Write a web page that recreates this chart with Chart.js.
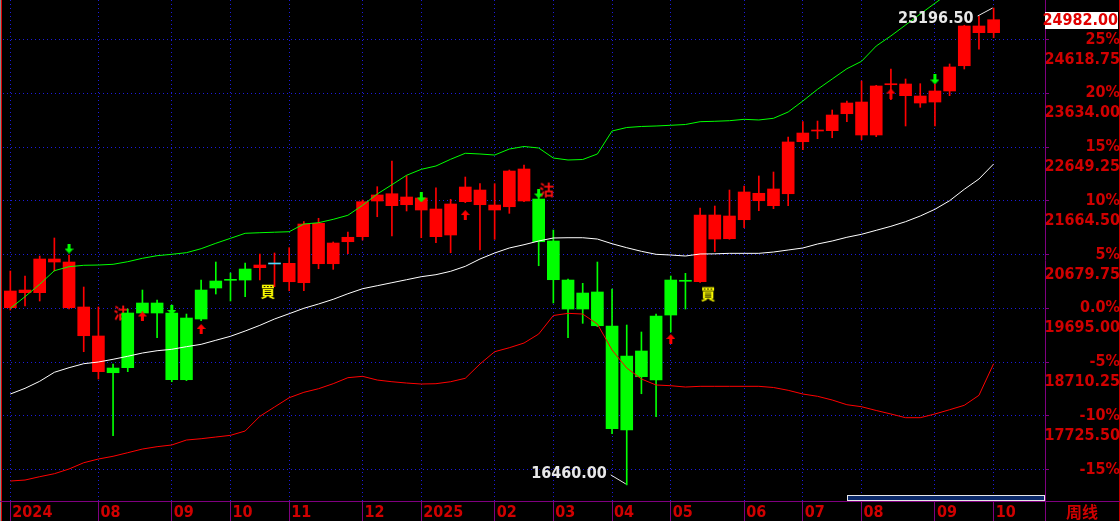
<!DOCTYPE html>
<html>
<head>
<meta charset="utf-8">
<script src="https://cdn.jsdelivr.net/npm/chart.js@4.4.1/dist/chart.umd.min.js"></script>
<style>
html, body { margin: 0; padding: 0; background: #000; overflow: hidden; }
canvas { display: block; }
</style>
</head>
<body>
<canvas id="kChart" width="1120" height="521"></canvas>
<script>
// ---------------- weekly candles ----------------
var openP  = [19706,19981,19981,20543,19706,19193,18534,18601,19609,19792,
              19792,19609,19517,20030,20195,20208,20415,20439,20507,20182,
              20164,20512,20512,20915,21007,21661,21575,21593,21496,21007,
              21038,21648,21593,21496,21556,21661,21697,20928,20213,19975,
              19994,19371,18821,18913,19554,20213,20190,20182,20964,20970,
              21318,21666,21575,21794,22747,22943,22949,23260,22870,22870,
              23791,23590,23456,23474,23676,24139,24744,24744];
var highP  = [20378,20287,20653,20983,20671,20085,19719,18675,19682,20030,
              19847,19755,19590,20213,20543,20342,20525,20690,20708,20805,
              21282,21344,20910,21093,21679,21923,22394,22124,21752,21904,
              21692,22100,21978,21978,22229,22320,21752,21129,20230,20153,
              20543,20048,19389,19261,19590,20287,20336,21532,21569,21862,
              21936,22119,22192,22833,23114,23126,23328,23493,23859,23780,
              24079,23896,23810,23804,24171,24880,25050,25196.5];
var lowP   = [19664,19737,19829,20378,19682,18900,18400,17361,18534,19590,
              19156,18350,18370,19470,19957,19829,19908,20213,20091,20017,
              20017,20420,20409,20695,20946,21373,21020,21478,20988,20897,
              20713,21630,20763,20959,21435,21650,20475,19792,19156,19420,
              19360,17398,16460,18130,17709,19261,19682,20170,20732,20960,
              21172,21483,21520,21575,22601,22802,22820,23114,22784,22839,
              23516,23035,23377,23035,23590,24079,24440,24652];
var closeP = [20012,20030,20598,20598,20543,19719,19188,18515,18607,19609,
              19609,18387,18387,19499,20067,20208,20213,20488,20507,20519,
              21239,21252,20891,20996,21648,21771,21794,21734,21716,21514,
              21606,21917,21862,21587,22210,22247,20915,20219,19682,19682,
              19376,17489,17465,18442,18381,19572,20190,21404,21404,21386,
              21826,21802,21881,22742,22906,22943,23236,23456,23474,23768,
              23791,23804,23584,23676,24116,24867,24867,24982];

// ---------------- band lines ----------------
var bandUp  = [19695,19908,20135,20384,20457,20483,20488,20501,20549,20611,
               20659,20684,20714,20787,20886,20977,21069,21080,21089,21098,
               21239,21263,21325,21399,21582,21789,21959,22132,22241,22302,
               22425,22535,22522,22503,22613,22659,22632,22448,22412,22421,
               22522,22943,23007,23026,23035,23048,23062,23114,23121,23132,
               23157,23145,23176,23291,23493,23707,23896,24084,24220,24500,
               24685,24885,25087,25283,25480,25673,25874,26076];
var bandMid = [18125,18229,18358,18523,18607,18680,18711,18761,18816,18876,
               18918,18944,18992,19035,19109,19182,19279,19383,19499,19596,
               19695,19774,19860,19962,20054,20109,20164,20219,20274,20311,
               20373,20464,20598,20708,20800,20860,20928,20983,20988,20988,
               20964,20878,20805,20739,20684,20671,20653,20690,20693,20702,
               20702,20702,20726,20763,20800,20873,20928,20996,21051,21124,
               21197,21282,21386,21509,21666,21875,22064,22339];
var bandLow = [16531,16549,16610,16665,16751,16866,16934,16984,17050,17117,
               17160,17191,17282,17306,17337,17368,17447,17716,17887,18057,
               18156,18222,18314,18424,18449,18381,18350,18326,18308,18314,
               18350,18413,18675,18900,18973,19059,19224,19563,19603,19590,
               19407,18931,18601,18400,18290,18277,18253,18266,18266,18266,
               18266,18266,18244,18193,18125,18083,18015,17929,17892,17823,
               17759,17691,17691,17759,17837,17918,18101,18680];

// ---------------- signals ----------------
var sellIdx = [7, 36],  sellPrice = [19618, 21871];   // 沽
var buyIdx  = [17, 47], buyPrice  = [20012, 19966];   // 買
var downIdx = [4, 11, 28, 36, 63], downPrice = [20790, 19664, 21725, 21798, 23887];
var upIdx   = [9, 13, 31, 45, 60], upPrice   = [19545, 19316, 21404, 19133, 23630];
var flatIdx = [18];

var lastClose = 24982.00;
var hiIdx = 67, hiPrice = 25196.50;
var loIdx = 42, loPrice = 16460.00;

// ---------------- axes ----------------
var monthTickIdx  = [0, 6, 11, 15, 19, 24, 28, 33, 37, 41, 45, 50, 54, 58, 63, 67];
var monthTickText = ['2024','08','09','10','11','12','2025','02','03','04','05','06','07','08','09','10'];
var basePrice = 19695;
var pctLevels     = [-15, -10, -5, 0, 5, 10, 15, 20, 25];
var pctTickText   = ['-15%','-10%','-5%','0.0%','5%','10%','15%','20%','25%'];
var priceTickText = ['', '17725.50', '18710.25', '19695.00', '20679.75', '21664.50', '22649.25', '23634.00', '24618.75'];
var yMin = 16165, yMax = 25343;
var padWeeks = 3;

var RED = '#ff0000', GREEN = '#00ff00', CYAN = '#4fdcff';
var LABEL_RED = '#d00000', PURPLE = '#800080', DOT_BLUE = '#1c1cdc';
var axisFamily = "'DejaVu Sans Condensed', 'DejaVu Sans', sans-serif";

var weekLabels = [];
for (var w = 0; w < closeP.length + padWeeks; w++) weekLabels.push('w' + w);

// long (red) / short (green) state follows the last 買 / 沽
var longState = closeP.map(function (c, i) {
    var s = Math.max.apply(null, sellIdx.filter(function (k) { return k <= i; }).concat([-1]));
    var b = Math.max.apply(null, buyIdx.filter(function (k) { return k <= i; }).concat([-1]));
    return !(s > b);
});
var bodyColors = closeP.map(function (c, i) {
    if (flatIdx.indexOf(i) >= 0) return CYAN;
    return longState[i] ? RED : GREEN;
});
var wickColors = longState.map(function (l) { return l ? RED : GREEN; });

var bodies = openP.map(function (o, i) { return [o, closeP[i]]; });
var wicks  = lowP.map(function (l, i) { return [l, highP[i]]; });

function sparse(idx, vals) {
    var a = closeP.map(function () { return null; });
    idx.forEach(function (k, j) { a[k] = vals[j]; });
    return a;
}

// little marker images
function makeArrow(color, down) {
    var cv = document.createElement('canvas');
    cv.width = 9; cv.height = 10;
    var g = cv.getContext('2d');
    g.fillStyle = color;
    g.beginPath();
    if (down) {
        g.fillRect(3, 0, 3, 6);
        g.moveTo(0, 5); g.lineTo(9, 5); g.lineTo(4.5, 10);
    } else {
        g.fillRect(3, 4, 3, 6);
        g.moveTo(0, 5); g.lineTo(9, 5); g.lineTo(4.5, 0);
    }
    g.closePath();
    g.fill();
    return cv;
}
function makeChar(ch, color, family) {
    var cv = document.createElement('canvas');
    cv.width = 36; cv.height = 20;
    var g = cv.getContext('2d');
    g.fillStyle = color;
    g.font = 'bold 15px ' + family;
    g.textAlign = 'center';
    g.textBaseline = 'middle';
    g.fillText(ch, 26, 10);
    return cv;
}

var mctx = document.createElement('canvas').getContext('2d');
mctx.font = 'bold 16px ' + axisFamily;
var widest = mctx.measureText('24618.75').width;
var yAxisWidth = 75, yTickLen = 4;
var yPad = 1118 - (1120 - yAxisWidth) - yTickLen - widest;

var chrome = {
    id: 'chrome',
    beforeDraw: function (chart) {
        var c = chart.ctx;
        c.save();
        c.fillStyle = '#000';
        c.fillRect(0, 0, chart.width, chart.height);
        c.restore();
    },
    afterDraw: function (chart) {
        var c = chart.ctx, a = chart.chartArea, xs = chart.scales.x, ys = chart.scales.y;
        var W = chart.width, H = chart.height;
        c.save();
        // frame
        c.fillStyle = '#8a8a8a'; c.fillRect(0, 0, 1, H);
        c.fillStyle = '#e00000'; c.fillRect(1, 0, 1, H);
        c.fillStyle = '#c00000'; c.fillRect(W - 1, 0, 1, H);
        c.strokeStyle = PURPLE; c.lineWidth = 1;
        c.beginPath();
        c.moveTo(0, Math.round(a.bottom) + 0.5); c.lineTo(W, Math.round(a.bottom) + 0.5);
        c.moveTo(Math.round(a.right) + 0.5, 0); c.lineTo(Math.round(a.right) + 0.5, H);
        c.stroke();

        // scroll bar
        c.fillStyle = '#0c2a6a';
        c.fillRect(848, 496, 196, 4);
        c.strokeStyle = '#e8e8e8';
        c.strokeRect(847.5, 495.5, 197, 5);

        // period name
        c.fillStyle = LABEL_RED;
        c.font = 'bold 16px "Noto Sans CJK SC"';
        c.textAlign = 'center'; c.textBaseline = 'middle';
        c.fillText('周线', 1082, 512);

        // last price tag
        var yc = ys.getPixelForValue(lastClose);
        c.fillStyle = '#ffffff';
        c.fillRect(Math.round(a.right), Math.round(yc) - 8, 73, 17);
        c.fillStyle = '#e00000';
        c.font = 'bold 16px ' + axisFamily;
        c.textAlign = 'right';
        c.fillText(lastClose.toFixed(2), 1118, yc + 1);

        // high / low marks
        c.strokeStyle = '#e8e8e8';
        c.fillStyle = '#e8e8e8';
        var hx = xs.getPixelForValue(hiIdx), hy = ys.getPixelForValue(hiPrice);
        var lx = xs.getPixelForValue(loIdx), ly = ys.getPixelForValue(loPrice);
        c.beginPath();
        c.moveTo(hx - 16, hy + 8); c.lineTo(hx - 1, hy);
        c.moveTo(lx - 16, ly - 10); c.lineTo(lx - 1, ly - 1);
        c.stroke();
        c.fillText(hiPrice.toFixed(2), hx - 20, hy + 11);
        c.fillText(loPrice.toFixed(2), lx - 20, ly - 11);
        c.restore();
    }
};

var lineBase = { type: 'line', borderWidth: 1, pointRadius: 0, fill: false, tension: 0, order: 0 };
function lineSet(data, color) {
    return Object.assign({}, lineBase, { data: data, borderColor: color });
}
function markSet(data, img, order) {
    return { type: 'line', data: data, showLine: false, pointStyle: img, pointRadius: 4, order: order };
}

new Chart(document.getElementById('kChart'), {
    type: 'bar',
    data: {
        labels: weekLabels,
        datasets: [
            lineSet(bandUp, GREEN),
            lineSet(bandMid, '#ffffff'),
            lineSet(bandLow, RED),
            markSet(sparse(downIdx, downPrice), makeArrow(GREEN, true), -1),
            markSet(sparse(upIdx, upPrice), makeArrow(RED, false), -1),
            markSet(sparse(sellIdx, sellPrice), makeChar('沽', '#ff1010', '"Noto Sans CJK SC"'), 3),
            markSet(sparse(buyIdx, buyPrice), makeChar('買', '#ffff00', '"Noto Sans CJK TC"'), 3),
            { data: bodies, backgroundColor: bodyColors, barThickness: 12, minBarLength: 1,
              grouped: false, borderWidth: 0, order: 1 },
            { data: wicks, backgroundColor: wickColors, barThickness: 1,
              grouped: false, borderWidth: 0, order: 2 }
        ]
    },
    options: {
        responsive: false,
        animation: false,
        events: [],
        layout: { autoPadding: false, padding: { left: 3, top: 0, right: 0, bottom: 0 } },
        plugins: { legend: { display: false }, tooltip: { enabled: false } },
        scales: {
            x: {
                type: 'category',
                offset: true,
                grid: { offset: false, color: DOT_BLUE, lineWidth: 1, tickLength: 20, tickColor: PURPLE, tickWidth: 1 },
                border: { display: false, dash: [1, 3] },
                ticks: {
                    autoSkip: false, maxRotation: 0, minRotation: 0,
                    align: 'start', labelOffset: 2, padding: -17.5,
                    color: LABEL_RED,
                    font: { family: axisFamily, size: 16, weight: 'bold' },
                    callback: function (value) {
                        var j = monthTickIdx.indexOf(value);
                        return j < 0 ? '' : monthTickText[j];
                    }
                },
                afterBuildTicks: function (s) {
                    s.ticks = monthTickIdx.map(function (v) { return { value: v }; });
                },
                afterFit: function (s) {
                    s.height = 20;
                    s.paddingLeft = 0; s.paddingRight = 0;
                }
            },
            y: {
                type: 'linear',
                position: 'right',
                min: yMin, max: yMax,
                grid: { color: DOT_BLUE, lineWidth: 1, tickLength: yTickLen, tickColor: PURPLE, tickWidth: 1 },
                border: { display: false, dash: [1, 3] },
                ticks: {
                    crossAlign: 'far', padding: yPad, labelOffset: 10,
                    color: LABEL_RED,
                    font: { family: axisFamily, size: 16, weight: 'bold', lineHeight: '20px' },
                    callback: function (value, index) {
                        return [pctTickText[index], priceTickText[index]];
                    }
                },
                afterBuildTicks: function (s) {
                    s.ticks = pctLevels.map(function (p) { return { value: basePrice * (1 + p / 100) }; });
                },
                afterFit: function (s) {
                    s.width = yAxisWidth;
                    s.paddingTop = 0; s.paddingBottom = 0;
                }
            }
        }
    },
    plugins: [chrome]
});
</script>
</body>
</html>
